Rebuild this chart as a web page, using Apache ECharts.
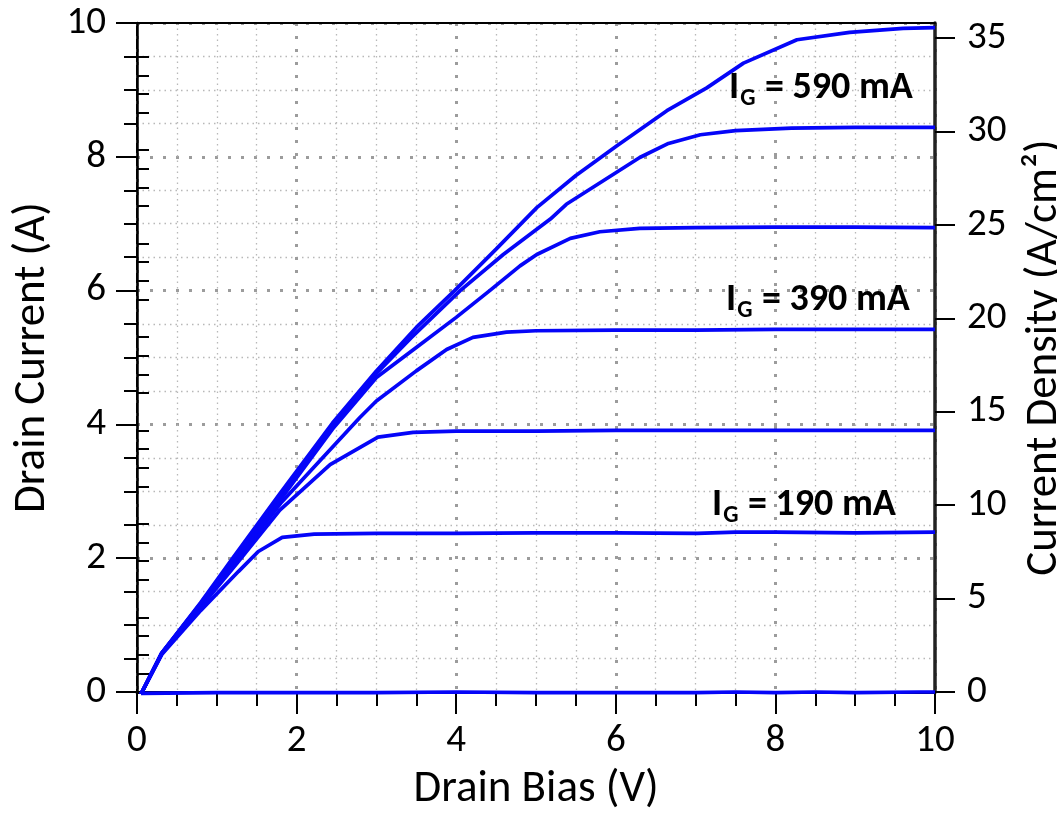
<!DOCTYPE html>
<html>
<head>
<meta charset="utf-8">
<script src="https://cdn.jsdelivr.net/npm/echarts@6/dist/echarts.min.js"></script>
<style>
html,body{margin:0;padding:0;background:#fff;overflow:hidden;}
#chart{width:1057px;height:813px;}
</style>
</head>
<body>
<div id="chart"></div>
<script>
// Drain bias (V) vs drain current (A), one array of [V, A] pairs per gate current
const curve_0mA = [[0.05,-0.02],[1,-0.01],[2,-0.01],[3,-0.01],[4,0],[5,-0.01],[6,-0.01],[7,-0.01],[7.5,0],[8,-0.01],[8.5,0],[9,-0.01],[9.8,0],[10,0]];
const curve_190mA = [[0.05,-0.03],[0.31,0.56],[0.8,1.22],[1.27,1.80],[1.52,2.10],[1.82,2.31],[2.22,2.36],[3,2.37],[4,2.37],[5,2.38],[6,2.38],[7.02,2.37],[7.5,2.39],[8,2.39],[9,2.38],[10,2.39]];
const curve_290mA = [[0.05,-0.03],[0.31,0.57],[0.8,1.27],[1.25,1.92],[1.79,2.72],[2.42,3.40],[3.02,3.81],[3.46,3.88],[4,3.9],[5,3.9],[6,3.91],[7,3.91],[8,3.91],[9,3.91],[10,3.91]];
const curve_390mA = [[0.05,-0.03],[0.31,0.58],[0.8,1.3],[1.25,1.97],[1.8,2.82],[2.17,3.3],[2.79,4.1],[3.0,4.35],[3.5,4.8],[3.88,5.12],[4.21,5.3],[4.63,5.38],[5.0,5.4],[6,5.41],[7,5.41],[8,5.42],[9,5.42],[10,5.42]];
const curve_490mA = [[0.05,-0.03],[0.31,0.58],[0.8,1.32],[1.25,2.0],[1.8,2.88],[2.45,3.93],[3.0,4.7],[3.5,5.15],[4.0,5.6],[4.42,6.0],[4.8,6.37],[5.01,6.54],[5.43,6.78],[5.8,6.88],[6.3,6.93],[7,6.94],[8,6.95],[9,6.95],[10,6.94]];
const curve_540mA = [[0.05,-0.03],[0.31,0.58],[0.8,1.33],[1.22,2.0],[1.8,2.95],[2.45,3.98],[3.0,4.76],[3.44,5.3],[4.05,6.0],[4.59,6.54],[5.18,7.07],[5.38,7.29],[6.01,7.77],[6.30,7.99],[6.66,8.20],[7.06,8.33],[7.5,8.39],[8.2,8.43],[9,8.44],[10,8.44]];
const curve_690mA = [[0.05,-0.03],[0.31,0.58],[0.8,1.34],[1.2,2.0],[1.8,2.98],[2.45,4.02],[3.0,4.8],[3.5,5.45],[3.98,6.0],[4.5,6.62],[5.01,7.24],[5.5,7.72],[6.01,8.16],[6.64,8.69],[7.14,9.03],[7.6,9.4],[8.27,9.75],[8.93,9.86],[9.6,9.92],[10,9.93]];

const xTicksMajor = [0,2,4,6,8,10];
const leftTicksMajor = [0,2,4,6,8,10];
const rightTicksMajor = [0,5,10,15,20,25,30,35];
const rightTicksMinor = [1,2,3,4,6,7,8,9,11,12,13,14,16,17,18,19,21,22,23,24,26,27,28,29,31,32,33,34];
const densityAtMaxCurrent = 35.8; // A/cm² at 10 A

const curveList = [curve_0mA, curve_190mA, curve_290mA, curve_390mA, curve_490mA, curve_540mA, curve_690mA];
const annotationTexts = ['590', '390', '190'];

const FONT = 'Carlito, Lato, sans-serif';
const chart = echarts.init(document.getElementById('chart'), null, {renderer: 'canvas'});

const majorGrid = {show: true, lineStyle: {color: '#9c9c9c', width: 3, type: [3, 10]}};
const minorGrid = {show: true, lineStyle: {color: '#b8b8b8', width: 1.3, type: [1.5, 4]}};

function igLabel(val) {
  return '{n|I}{s|G}{n| = ' + val + ' mA}';
}
const igRich = {
  n: {fontFamily: FONT, fontSize: 38, fontWeight: 'bold', color: '#000', lineHeight: 42, verticalAlign: 'top'},
  s: {fontFamily: FONT, fontSize: 24, fontWeight: 'bold', color: '#000', lineHeight: 25, verticalAlign: 'bottom', padding: [17, 1, 0, 1]}
};

chart.setOption({
  animation: false,
  backgroundColor: '#fff',
  grid: {left: 137, right: 122, top: 23, bottom: 121, outerBoundsMode: 'none', containLabel: false,
         show: true, borderColor: '#000', borderWidth: 2, backgroundColor: 'transparent'},
  xAxis: [{
    type: 'value', min: 0, max: 10, interval: 2, position: 'bottom',
    name: 'Drain Bias (V)', nameLocation: 'middle', nameGap: 75,
    nameTextStyle: {fontFamily: FONT, fontSize: 45, color: '#000'},
    axisLine: {show: true, onZero: false, lineStyle: {color: '#000', width: 3}},
    axisTick: {show: true, inside: false, length: 22, lineStyle: {color: '#000', width: 2}},
    minorTick: {show: true, splitNumber: 4, length: 14, lineStyle: {color: '#000', width: 2}},
    axisLabel: {fontFamily: FONT, fontSize: 39, color: '#000', margin: 30, customValues: xTicksMajor},
    splitLine: majorGrid,
    minorSplitLine: minorGrid
  }, {
    type: 'value', min: 0, max: 10, interval: 2, position: 'top',
    axisLine: {show: true, onZero: false, lineStyle: {color: '#000', width: 2}},
    axisTick: {show: false},
    axisLabel: {show: false},
    splitLine: {show: false}
  }],
  yAxis: [{
    type: 'value', min: 0, max: 10, interval: 2, position: 'left',
    name: 'Drain Current (A)', nameLocation: 'middle', nameGap: 77,
    nameTextStyle: {fontFamily: FONT, fontSize: 45, color: '#000'},
    axisLine: {show: true, onZero: false, lineStyle: {color: '#000', width: 2.5}},
    axisTick: {show: true, inside: false, length: 21, lineStyle: {color: '#000', width: 2}},
    minorTick: {show: true, splitNumber: 4, length: 13, lineStyle: {color: '#000', width: 2}},
    axisLabel: {fontFamily: FONT, fontSize: 39, color: '#000', margin: 31, customValues: leftTicksMajor},
    splitLine: majorGrid,
    minorSplitLine: minorGrid
  }, {
    type: 'value', min: 0, max: densityAtMaxCurrent, position: 'right',
    name: 'Current Density (A/cm²)', nameLocation: 'middle', nameGap: 87, nameMoveOverlap: false,
    nameTextStyle: {fontFamily: FONT, fontSize: 45, color: '#000'},
    axisLine: {show: true, onZero: false, lineStyle: {color: '#222', width: 3.5}},
    axisTick: {show: true, inside: false, length: 20, customValues: rightTicksMajor, lineStyle: {color: '#000', width: 2}},
    axisLabel: {fontFamily: FONT, fontSize: 39, color: '#000', margin: 32, customValues: rightTicksMajor},
    splitLine: {show: false}
  }, {
    type: 'value', min: 0, max: densityAtMaxCurrent, position: 'right',
    axisLine: {show: false},
    axisTick: {show: true, inside: false, length: 12, customValues: rightTicksMinor, lineStyle: {color: '#000', width: 2}},
    axisLabel: {show: false},
    splitLine: {show: false}
  }],
  series: curveList.map(function (c) {
    return {
      type: 'line', data: c, xAxisIndex: 0, yAxisIndex: 0,
      showSymbol: false, symbol: 'none', smooth: false, clip: false,
      lineStyle: {color: '#0505f8', width: 3.7},
      z: 5
    };
  }),
  graphic: [
    {type: 'text', left: 729, top: 69, z: 20, style: {text: igLabel(annotationTexts[0]), rich: igRich}},
    {type: 'text', left: 726, top: 281, z: 20, style: {text: igLabel(annotationTexts[1]), rich: igRich}},
    {type: 'text', left: 712, top: 486, z: 20, style: {text: igLabel(annotationTexts[2]), rich: igRich}}
  ]
});
</script>
</body>
</html>
